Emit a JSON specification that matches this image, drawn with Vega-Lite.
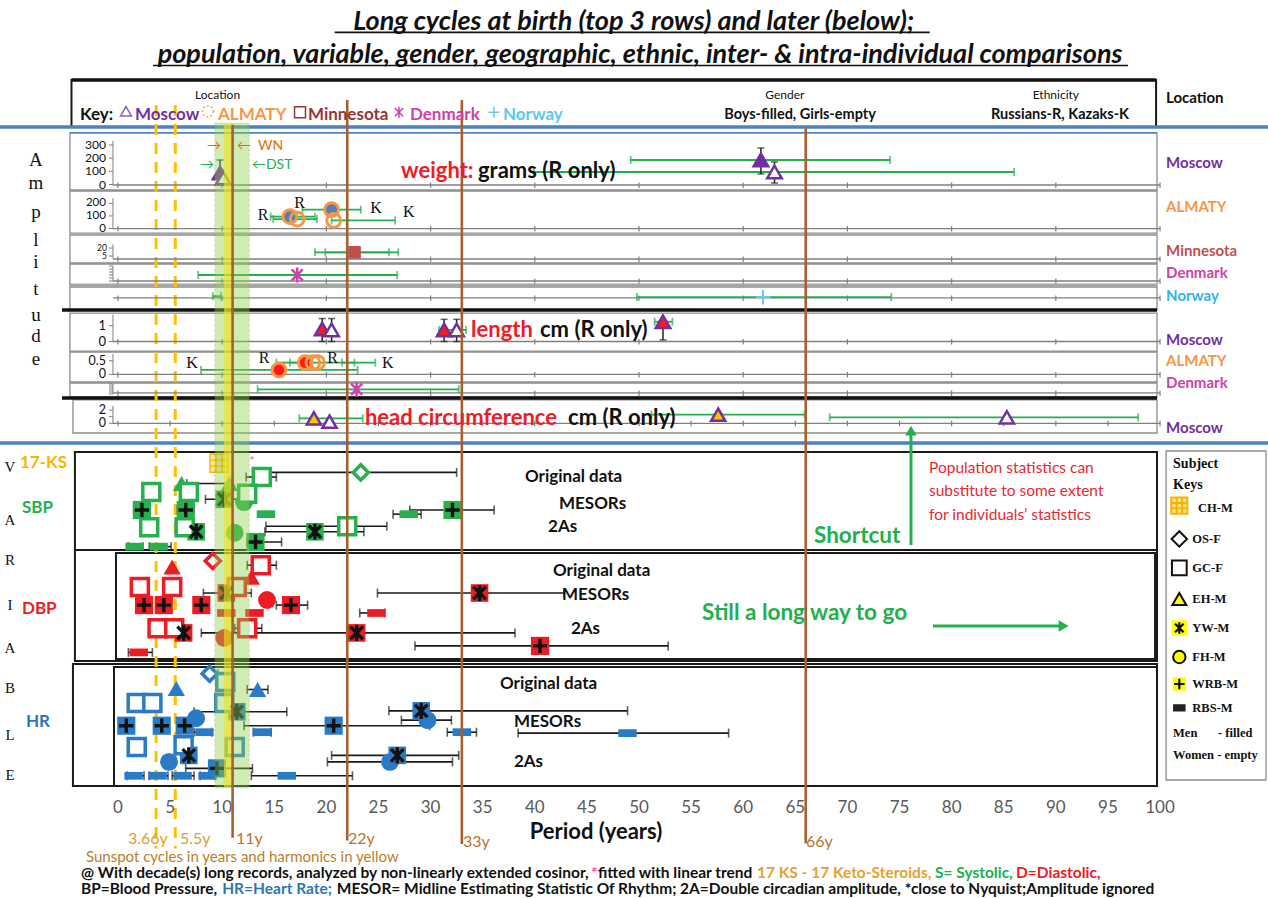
{
"$schema": "https://vega.github.io/schema/vega-lite/v6.json",
"width": 1268, "height": 898, "autosize": "none", "padding": 0, "background": "white",
"config": {"view": {"stroke": null}, "font": "Lato"},
"datasets": {
 "birth": [
  {"p":"WM","g":"boy","yr":61.7,"a":186,"lo":49.2,"hi":74.1,"alo":80,"ahi":277},
  {"p":"WM","g":"girl","yr":63.0,"a":95,"lo":39.9,"hi":86.0,"alo":11,"ahi":171},
  {"p":"WM","g":"boy","yr":9.8,"a":87,"alo":0,"ahi":186},
  {"p":"WM","g":"girl","yr":10.1,"a":49},
  {"p":"WA","g":"boy","yr":16.5,"a":94,"lo":14.65,"hi":18.9},
  {"p":"WA","g":"girl","yr":17.2,"a":75,"lo":14.9,"hi":19.1},
  {"p":"WA","g":"boy","yr":20.5,"a":150,"lo":17.7,"hi":23.3},
  {"p":"WA","g":"girl","yr":20.7,"a":64,"lo":20.5,"hi":26.6},
  {"p":"MN","g":"boy","yr":22.7,"a":12,"lo":18.9,"hi":26.9},
  {"p":"MN","a":12,"lo":19.9,"hi":26.0},
  {"p":"DW","g":"boy","yr":17.2,"a":4,"lo":7.7,"hi":26.8},
  {"p":"NO","g":"boy","yr":61.9,"a":1,"lo":49.8,"hi":74.2},
  {"p":"NO","a":2,"lo":9.1,"hi":9.9},
  {"p":"LM","g":"boy","yr":19.6,"a":0.79,"alo":0,"ahi":1.45},
  {"p":"LM","g":"girl","yr":20.5,"a":0.73,"alo":0,"ahi":1.45},
  {"p":"LM","g":"boy","yr":31.3,"a":0.73,"lo":30.8,"hi":33.4,"alo":0,"ahi":1.4},
  {"p":"LM","g":"girl","yr":32.5,"a":0.73,"alo":0,"ahi":1.4},
  {"p":"LM","g":"boy","yr":52.3,"a":1.25,"lo":51.5,"hi":53.2,"alo":0.1,"ahi":1.3},
  {"p":"LA","g":"boy","yr":15.45,"a":0.16,"lo":7.97,"hi":23.0},
  {"p":"LA","g":"boy","yr":17.97,"a":0.43,"lo":15.2,"hi":17.97},
  {"p":"LA","g":"girl","yr":18.7,"a":0.43,"lo":16.5,"hi":22.7},
  {"p":"LA","g":"girl","yr":19.15,"a":0.43,"lo":21.5,"hi":24.7},
  {"p":"LD","g":"boy","yr":22.9,"a":4.7,"lo":13.4,"hi":32.7},
  {"p":"HC","g":"boy","yr":18.8,"a":0.75,"lo":17.4,"hi":23.5},
  {"p":"HC","g":"girl","yr":20.3,"a":0.24},
  {"p":"HC","g":"boy","yr":57.6,"a":1.3,"lo":51.2,"hi":65.9},
  {"p":"HC","g":"girl","yr":85.3,"a":0.9,"lo":68.3,"hi":97.9}
 ],
 "lower": [
  {"v":"17-KS","s":"CH-M","yr":9.7,"lane":1.2},
  {"v":"SBP","s":"GC-F","yr":13.8,"lane":2.7,"lo":12.3,"hi":15.2},
  {"v":"SBP","s":"OS-F","yr":23.3,"lane":2.2,"lo":14.1,"hi":32.5},
  {"v":"SBP","s":"EH-M","yr":6.1,"lane":3.4},
  {"v":"SBP","s":"EH-M","yr":10.7,"lane":3.4,"lo":6.6,"hi":11.0},
  {"v":"SBP","s":"GC-F","yr":3.2,"lane":4.3},
  {"v":"SBP","s":"GC-F","yr":6.8,"lane":4.3},
  {"v":"SBP","s":"GC-F","yr":12.4,"lane":4.5},
  {"v":"SBP","s":"YW-M","yr":10.2,"lane":5.1,"lo":8.4,"hi":12.6},
  {"v":"SBP","s":"FH-M","yr":12.1,"lane":5.4},
  {"v":"SBP","s":"WRB-M","yr":2.3,"lane":6.25,"lo":1.5,"hi":3.1},
  {"v":"SBP","s":"WRB-M","yr":6.5,"lane":6.25,"lo":5.7,"hi":7.3},
  {"v":"SBP","s":"WRB-M","yr":32.1,"lane":6.25,"lo":28.0,"hi":36.1},
  {"v":"SBP","s":"RBS-M","yr":14.2,"lane":6.7},
  {"v":"SBP","s":"RBS-M","yr":27.9,"lane":6.7,"lo":26.4,"hi":29.1},
  {"v":"SBP","s":"GC-F","yr":3.0,"lane":8.1},
  {"v":"SBP","s":"GC-F","yr":6.4,"lane":8.1},
  {"v":"SBP","s":"GC-F","yr":22.0,"lane":8.0,"lo":14.2,"hi":25.8},
  {"v":"SBP","s":"YW-M","yr":7.5,"lane":8.6},
  {"v":"SBP","s":"YW-M","yr":18.9,"lane":8.6,"lo":14.1,"hi":23.6},
  {"v":"SBP","s":"FH-M","yr":11.2,"lane":8.7},
  {"v":"SBP","s":"WRB-M","yr":13.2,"lane":9.7,"lo":12.4,"hi":15.7},
  {"v":"SBP","s":"RBS-M","yr":1.6,"lane":10.2,"lo":1.0,"hi":2.4},
  {"v":"SBP","s":"RBS-M","yr":3.9,"lane":10.2,"lo":3.0,"hi":5.1},
  {"v":"DBP","s":"OS-F","yr":9.1,"lane":11.75},
  {"v":"DBP","s":"GC-F","yr":13.7,"lane":12.2,"lo":12.4,"hi":15.2},
  {"v":"DBP","s":"EH-M","yr":5.2,"lane":12.4},
  {"v":"DBP","s":"EH-M","yr":12.8,"lane":13.5},
  {"v":"DBP","s":"GC-F","yr":2.1,"lane":14.55},
  {"v":"DBP","s":"GC-F","yr":5.2,"lane":14.55},
  {"v":"DBP","s":"GC-F","yr":11.4,"lane":14.55},
  {"v":"DBP","s":"YW-M","yr":10.4,"lane":15.2,"lo":8.2,"hi":12.8},
  {"v":"DBP","s":"YW-M","yr":34.7,"lane":15.2,"lo":24.9,"hi":42.8},
  {"v":"DBP","s":"FH-M","yr":14.3,"lane":15.95},
  {"v":"DBP","s":"WRB-M","yr":16.6,"lane":16.5,"lo":15.2,"hi":18.2},
  {"v":"DBP","s":"WRB-M","yr":2.5,"lane":16.5},
  {"v":"DBP","s":"WRB-M","yr":4.4,"lane":16.5},
  {"v":"DBP","s":"WRB-M","yr":8.0,"lane":16.5},
  {"v":"DBP","s":"RBS-M","yr":10.4,"lane":17.35},
  {"v":"DBP","s":"RBS-M","yr":13.1,"lane":17.35},
  {"v":"DBP","s":"RBS-M","yr":24.8,"lane":17.35,"lo":23.2,"hi":25.6},
  {"v":"DBP","s":"GC-F","yr":3.8,"lane":19.0},
  {"v":"DBP","s":"GC-F","yr":5.4,"lane":19.0},
  {"v":"DBP","s":"GC-F","yr":12.4,"lane":19.0,"lo":11.2,"hi":13.8},
  {"v":"DBP","s":"YW-M","yr":6.3,"lane":19.5},
  {"v":"DBP","s":"YW-M","yr":22.9,"lane":19.5,"lo":8.0,"hi":38.1},
  {"v":"DBP","s":"FH-M","yr":10.2,"lane":20.05},
  {"v":"DBP","s":"WRB-M","yr":40.5,"lane":20.9,"lo":28.5,"hi":52.8},
  {"v":"DBP","s":"RBS-M","yr":2.0,"lane":21.6,"lo":1.0,"hi":3.3},
  {"v":"HR","s":"OS-F","yr":8.8,"lane":23.9,"lo":8.3,"hi":9.6},
  {"v":"HR","s":"GC-F","yr":10.3,"lane":24.8},
  {"v":"HR","s":"EH-M","yr":5.6,"lane":25.5},
  {"v":"HR","s":"EH-M","yr":13.4,"lane":25.6,"lo":12.4,"hi":14.4},
  {"v":"HR","s":"GC-F","yr":1.8,"lane":27.05},
  {"v":"HR","s":"GC-F","yr":3.3,"lane":27.05},
  {"v":"HR","s":"GC-F","yr":10.2,"lane":27.05},
  {"v":"HR","s":"YW-M","yr":11.4,"lane":28.0,"lo":7.3,"hi":16.2},
  {"v":"HR","s":"FH-M","yr":7.5,"lane":28.7},
  {"v":"HR","s":"YW-M","yr":29.1,"lane":27.9,"lo":26.0,"hi":48.9},
  {"v":"HR","s":"FH-M","yr":29.7,"lane":28.9,"lo":27.2,"hi":32.0},
  {"v":"HR","s":"WRB-M","yr":0.8,"lane":29.5},
  {"v":"HR","s":"WRB-M","yr":4.2,"lane":29.5},
  {"v":"HR","s":"WRB-M","yr":6.4,"lane":29.5},
  {"v":"HR","s":"WRB-M","yr":20.7,"lane":29.5,"lo":12.1,"hi":29.9},
  {"v":"HR","s":"RBS-M","yr":8.3,"lane":30.2,"lo":7.3,"hi":9.0},
  {"v":"HR","s":"RBS-M","yr":13.8,"lane":30.2,"lo":13.0,"hi":14.7},
  {"v":"HR","s":"RBS-M","yr":33.0,"lane":30.2,"lo":31.6,"hi":34.4},
  {"v":"HR","s":"RBS-M","yr":48.9,"lane":30.3,"lo":38.4,"hi":58.6},
  {"v":"HR","s":"GC-F","yr":1.8,"lane":31.8},
  {"v":"HR","s":"GC-F","yr":6.3,"lane":31.6},
  {"v":"HR","s":"GC-F","yr":11.2,"lane":31.8,"lo":10.4,"hi":12.0},
  {"v":"HR","s":"YW-M","yr":6.8,"lane":32.7},
  {"v":"HR","s":"FH-M","yr":4.9,"lane":33.4},
  {"v":"HR","s":"YW-M","yr":26.8,"lane":32.7,"lo":20.5,"hi":32.7},
  {"v":"HR","s":"FH-M","yr":26.1,"lane":33.4,"lo":20.1,"hi":32.1},
  {"v":"HR","s":"WRB-M","yr":9.5,"lane":34.1,"lo":6.5,"hi":12.9},
  {"v":"HR","s":"RBS-M","yr":1.5,"lane":34.9,"lo":0.9,"hi":2.5},
  {"v":"HR","s":"RBS-M","yr":3.8,"lane":34.9,"lo":3.0,"hi":4.8},
  {"v":"HR","s":"RBS-M","yr":6.2,"lane":34.9,"lo":5.2,"hi":7.3},
  {"v":"HR","s":"RBS-M","yr":8.6,"lane":34.9,"lo":7.9,"hi":9.3},
  {"v":"HR","s":"RBS-M","yr":16.2,"lane":34.9,"lo":12.8,"hi":22.5}
 ],
 "baselines": [
  {"y":20.60,"y1":20.32,"y2":20.93,"xs":[0,10,20,30,40,50,60,70,80,90,100]},
  {"y":25.45,"y1":25.17,"y2":25.78,"xs":[0,10,20,30,40,50,60,70,80,90,100]},
  {"y":28.84,"y1":28.56,"y2":29.17,"xs":[0,10,20,30,40,50,60,70,80,90,100]},
  {"y":31.29,"y1":31.01,"y2":31.62,"xs":[0,10,20,30,40,50,60,70,80,90,100]},
  {"y":33.18,"y1":32.90,"y2":33.51,"xs":[0,10,20,30,40,50,60,70,80,90,100]},
  {"y":38.03,"y1":37.75,"y2":38.36,"xs":[0,10,20,30,40,50,60,70,80,90,100]},
  {"y":41.70,"y1":41.42,"y2":42.03,"xs":[0,10,20,30,40,50,60,70,80,90,100]},
  {"y":43.76,"y1":43.48,"y2":44.09,"xs":[0,10,20,30,40,50,60,70,80,90,100]},
  {"y":47.14,"y1":46.86,"y2":47.47,"xs":[0,5,10,15,20,25,30,35,40,45,50,55,60,65,70,75,80,85,90,95,100]}
 ],
 "periodTicks": [{"v":0},{"v":5},{"v":10},{"v":15},{"v":20},{"v":25},{"v":30},{"v":35},{"v":40},{"v":45},{"v":50},{"v":55},{"v":60},{"v":65},{"v":70},{"v":75},{"v":80},{"v":85},{"v":90},{"v":95},{"v":100}]
},
"resolve": {"scale": {"y": "independent", "color": "independent", "fill": "independent", "stroke": "independent", "shape": "independent", "size": "independent", "strokeDash": "independent"}},
"layer": [
 {
  "encoding": {
   "x": {"field": "x", "type": "quantitative", "scale": {"domain": [-11.32, 110.36], "nice": false, "zero": false}, "axis": null},
   "y": {"field": "y", "type": "quantitative", "scale": {"domain": [0, 100], "range": [0, 898], "nice": false, "zero": false}, "axis": null}
  },
  "layer": [
   {"data": {"values": [
     {"x":-4.61,"x2":99.71,"y":14.81,"y2":21.16},
     {"x":-4.61,"x2":99.71,"y":21.27,"y2":25.95},
     {"x":-4.61,"x2":99.71,"y":26.17,"y2":29.29},
     {"x":-4.61,"x2":99.71,"y":29.40,"y2":31.74},
     {"x":-4.61,"x2":99.71,"y":31.96,"y2":34.52},
     {"x":-4.61,"x2":99.71,"y":34.86,"y2":39.09},
     {"x":-4.61,"x2":99.71,"y":39.20,"y2":42.54},
     {"x":-4.61,"x2":99.71,"y":42.65,"y2":44.21},
     {"x":-4.32,"x2":99.71,"y":44.54,"y2":48.22},
     {"x":100.58,"x2":110.17,"y":50.22,"y2":86.86}]},
    "mark": {"type": "rect", "fill": "transparent", "stroke": "#8c8c8c", "strokeWidth": 1.3},
    "encoding": {"x2": {"field": "x2"}, "y2": {"field": "y2"}}},
   {"data": {"values": [
     {"x":-4.46,"x2":99.62,"y":8.91,"y2":14.14},
     {"x":-4.13,"x2":99.71,"y":50.33,"y2":61.25},
     {"x":-4.13,"x2":99.71,"y":61.25,"y2":73.61},
     {"x":-0.19,"x2":99.52,"y":61.58,"y2":73.39},
     {"x":-4.32,"x2":99.71,"y":73.94,"y2":87.53},
     {"x":-0.38,"x2":99.71,"y":74.28,"y2":87.53}]},
    "mark": {"type": "rect", "fill": "transparent", "stroke": "#1a1a1a", "strokeWidth": 2},
    "encoding": {"x2": {"field": "x2"}, "y2": {"field": "y2"}}},
   {"data": {"name": "baselines"}, "transform": [{"flatten": ["xs"]}],
    "mark": {"type": "rule", "color": "#7f7f7f", "strokeWidth": 1.2},
    "encoding": {"x": {"field": "xs", "type": "quantitative", "scale": {"domain": [-11.32, 110.36], "nice": false, "zero": false}, "axis": null},
                 "y": {"field": "y1", "type": "quantitative", "scale": {"domain": [0, 100], "range": [0, 898], "nice": false, "zero": false}, "axis": null},
                 "y2": {"field": "y2"}}},
   {"data": {"values": [{"x":-5.37,"x2":99.71,"y":34.52},{"x":-5.37,"x2":99.71,"y":44.32},{"x":-4.46,"x2":99.62,"y":8.91}]},
    "mark": {"type": "rule", "color": "#111111", "strokeWidth": 3.5},
    "encoding": {"x2": {"field": "x2"}}},
   {"data": {"values": [{"x":-4.61,"x2":99.71,"y":31.74}]},
    "mark": {"type": "rule", "color": "#a6a6a6", "strokeWidth": 3},
    "encoding": {"x2": {"field": "x2"}}},
   {"data": {"values": [{"x":-11.32,"x2":110.36,"y":14.14},{"x":-11.32,"x2":110.36,"y":49.33}]},
    "mark": {"type": "rule", "color": "#4f81bd", "strokeWidth": 3.5},
    "encoding": {"x2": {"field": "x2"}}},
   {"data": {"values": [{"x":-4.61,"x2":99.71,"y":14.76}]},
    "mark": {"type": "rule", "color": "#4f81bd", "strokeWidth": 1.3},
    "encoding": {"x2": {"field": "x2"}}},
   {"data": {"values": [{"x":3.66,"y":11.7,"y2":94.5},{"x":5.5,"y":11.7,"y2":94.5}]},
    "mark": {"type": "rule", "color": "#ffc000", "strokeWidth": 3, "strokeDash": [11, 8]},
    "encoding": {"y2": {"field": "y2"}}}
  ]
 },
 {"data": {"name": "baselines"},
  "mark": {"type": "rule", "color": "#7f7f7f", "strokeWidth": 1.3},
  "encoding": {"x": {"datum": -0.48, "type": "quantitative", "scale": {"domain": [-11.32, 110.36], "nice": false, "zero": false}, "axis": null}, "x2": {"datum": 100},
               "y": {"field": "y", "type": "quantitative", "scale": {"domain": [0, 100], "range": [0, 898], "nice": false, "zero": false}, "axis": null}}},
 {"data": {"name": "periodTicks"},
  "mark": {"type": "text", "fontSize": 17, "align": "center", "baseline": "middle", "color": "#595959"},
  "encoding": {"x": {"field": "v", "type": "quantitative", "scale": {"domain": [-11.32, 110.36], "nice": false, "zero": false}, "axis": null},
               "y": {"datum": 90.0, "type": "quantitative", "scale": {"domain": [0, 100], "range": [0, 898], "nice": false, "zero": false}, "axis": null},
               "text": {"field": "v", "type": "nominal"}}},
 {
  "data": {"name": "birth"}, "transform": [{"filter": "datum.p === 'WM'"}],
  "encoding": {"y": {"field": "a", "type": "quantitative", "scale": {"domain": [0, 330], "range": [184.5, 141], "nice": false, "zero": false}, "axis": null}},
  "layer": [
   {"data": {"values": [{"a":0,"a2":330}]}, "mark": {"type": "rule", "color": "#808080"},
    "encoding": {"x": {"datum": -0.48, "type": "quantitative", "scale": {"domain": [-11.32, 110.36], "nice": false, "zero": false}, "axis": null}, "y2": {"field": "a2"}}},
   {"data": {"values": [{"a":0},{"a":100},{"a":200},{"a":300}]}, "mark": {"type": "rule", "color": "#808080"},
    "encoding": {"x": {"datum": -0.86, "type": "quantitative", "scale": {"domain": [-11.32, 110.36], "nice": false, "zero": false}, "axis": null}, "x2": {"datum": -0.48}}},
   {"data": {"values": [{"a":0},{"a":100},{"a":200},{"a":300}]}, "mark": {"type": "text", "align": "right", "baseline": "middle", "fontSize": 12, "dx": -7, "color": "#111111"},
    "encoding": {"x": {"datum": -0.48, "type": "quantitative", "scale": {"domain": [-11.32, 110.36], "nice": false, "zero": false}, "axis": null}, "text": {"field": "a", "type": "nominal"}}},
   {"transform": [{"filter": "isValid(datum.lo)"}], "mark": {"type": "errorbar", "ticks": {"size": 8}, "thickness": 1.8, "color": "#22b04b"},
    "encoding": {"x": {"field": "lo", "type": "quantitative", "scale": {"domain": [-11.32, 110.36], "nice": false, "zero": false}, "axis": null}, "x2": {"field": "hi"}}},
   {"transform": [{"filter": "isValid(datum.alo)"}], "mark": {"type": "errorbar", "ticks": {"size": 7}, "thickness": 1.5, "color": "#222222"},
    "encoding": {"x": {"field": "yr", "type": "quantitative", "scale": {"domain": [-11.32, 110.36], "nice": false, "zero": false}, "axis": null},
                 "y": {"field": "alo", "type": "quantitative", "scale": {"domain": [0, 330], "range": [184.5, 141], "nice": false, "zero": false}, "axis": null}, "y2": {"field": "ahi"}}},
   {"transform": [{"filter": "isValid(datum.yr)"}], "mark": {"type": "point", "shape": "triangle-up", "size": 210, "stroke": "#7030a0", "strokeWidth": 2.5, "filled": true, "opacity": 1},
    "encoding": {"x": {"field": "yr", "type": "quantitative", "scale": {"domain": [-11.32, 110.36], "nice": false, "zero": false}, "axis": null},
                 "fill": {"field": "g", "type": "nominal", "scale": {"domain": ["boy", "girl"], "range": ["#7030a0", "white"]}, "legend": null}}}
  ]
 },
 {
  "data": {"name": "birth"}, "transform": [{"filter": "datum.p === 'WA'"}],
  "encoding": {"y": {"field": "a", "type": "quantitative", "scale": {"domain": [0, 240], "range": [228.5, 198.3], "nice": false, "zero": false}, "axis": null}},
  "layer": [
   {"data": {"values": [{"a":0,"a2":240}]}, "mark": {"type": "rule", "color": "#808080"},
    "encoding": {"x": {"datum": -0.48, "type": "quantitative", "scale": {"domain": [-11.32, 110.36], "nice": false, "zero": false}, "axis": null}, "y2": {"field": "a2"}}},
   {"data": {"values": [{"a":0},{"a":100},{"a":200}]}, "mark": {"type": "rule", "color": "#808080"},
    "encoding": {"x": {"datum": -0.86, "type": "quantitative", "scale": {"domain": [-11.32, 110.36], "nice": false, "zero": false}, "axis": null}, "x2": {"datum": -0.48}}},
   {"data": {"values": [{"a":0},{"a":100},{"a":200}]}, "mark": {"type": "text", "align": "right", "baseline": "middle", "fontSize": 11.5, "dx": -7, "color": "#111111"},
    "encoding": {"x": {"datum": -0.48, "type": "quantitative", "scale": {"domain": [-11.32, 110.36], "nice": false, "zero": false}, "axis": null}, "text": {"field": "a", "type": "nominal"}}},
   {"transform": [{"filter": "isValid(datum.lo)"}], "mark": {"type": "errorbar", "ticks": {"size": 8}, "thickness": 1.8, "color": "#22b04b"},
    "encoding": {"x": {"field": "lo", "type": "quantitative", "scale": {"domain": [-11.32, 110.36], "nice": false, "zero": false}, "axis": null}, "x2": {"field": "hi"}}},
   {"transform": [{"filter": "isValid(datum.yr)"}], "mark": {"type": "point", "shape": "circle", "size": 190, "stroke": "#f79646", "strokeWidth": 3, "filled": true, "opacity": 1},
    "encoding": {"x": {"field": "yr", "type": "quantitative", "scale": {"domain": [-11.32, 110.36], "nice": false, "zero": false}, "axis": null},
                 "fill": {"field": "g", "type": "nominal", "scale": {"domain": ["boy", "girl"], "range": ["#4f81bd", "transparent"]}, "legend": null}}}
  ]
 },
 {
  "data": {"name": "birth"}, "transform": [{"filter": "datum.p === 'MN'"}],
  "encoding": {"y": {"field": "a", "type": "quantitative", "scale": {"domain": [0, 27], "range": [258.7, 244.3], "nice": false, "zero": false}, "axis": null}},
  "layer": [
   {"data": {"values": [{"a":0,"a2":27}]}, "mark": {"type": "rule", "color": "#808080"},
    "encoding": {"x": {"datum": -0.48, "type": "quantitative", "scale": {"domain": [-11.32, 110.36], "nice": false, "zero": false}, "axis": null}, "y2": {"field": "a2"}}},
   {"data": {"values": [{"a":5},{"a":20}]}, "mark": {"type": "rule", "color": "#808080"},
    "encoding": {"x": {"datum": -0.86, "type": "quantitative", "scale": {"domain": [-11.32, 110.36], "nice": false, "zero": false}, "axis": null}, "x2": {"datum": -0.48}}},
   {"data": {"values": [{"a":5},{"a":20}]}, "mark": {"type": "text", "align": "right", "baseline": "middle", "fontSize": 8.5, "dx": -6, "color": "#111111"},
    "encoding": {"x": {"datum": -0.48, "type": "quantitative", "scale": {"domain": [-11.32, 110.36], "nice": false, "zero": false}, "axis": null}, "text": {"field": "a", "type": "nominal"}}},
   {"transform": [{"filter": "isValid(datum.lo)"}], "mark": {"type": "errorbar", "ticks": {"size": 8}, "thickness": 1.8, "color": "#22b04b"},
    "encoding": {"x": {"field": "lo", "type": "quantitative", "scale": {"domain": [-11.32, 110.36], "nice": false, "zero": false}, "axis": null}, "x2": {"field": "hi"}}},
   {"transform": [{"filter": "isValid(datum.yr)"}], "mark": {"type": "point", "shape": "square", "size": 160, "color": "#c0504d", "filled": true, "opacity": 1},
    "encoding": {"x": {"field": "yr", "type": "quantitative", "scale": {"domain": [-11.32, 110.36], "nice": false, "zero": false}, "axis": null}}}
  ]
 },
 {
  "data": {"name": "birth"}, "transform": [{"filter": "datum.p === 'DW'"}],
  "encoding": {"y": {"field": "a", "type": "quantitative", "scale": {"domain": [0, 10], "range": [281, 266], "nice": false, "zero": false}, "axis": null}},
  "layer": [
   {"data": {"values": [{"a":0,"a2":10}]}, "mark": {"type": "rule", "color": "#808080"},
    "encoding": {"x": {"datum": -0.48, "type": "quantitative", "scale": {"domain": [-11.32, 110.36], "nice": false, "zero": false}, "axis": null}, "y2": {"field": "a2"}}},
   {"data": {"values": [{"a":0},{"a":2},{"a":4},{"a":6},{"a":8},{"a":10}]}, "mark": {"type": "rule", "color": "#808080"},
    "encoding": {"x": {"datum": -0.86, "type": "quantitative", "scale": {"domain": [-11.32, 110.36], "nice": false, "zero": false}, "axis": null}, "x2": {"datum": -0.48}}},
   {"transform": [{"filter": "isValid(datum.lo)"}], "mark": {"type": "errorbar", "ticks": {"size": 8}, "thickness": 1.8, "color": "#22b04b"},
    "encoding": {"x": {"field": "lo", "type": "quantitative", "scale": {"domain": [-11.32, 110.36], "nice": false, "zero": false}, "axis": null}, "x2": {"field": "hi"}}},
   {"transform": [{"filter": "isValid(datum.yr)"}], "mark": {"type": "point", "shape": "M-0.75,-0.75L0.75,0.75M0.75,-0.75L-0.75,0.75M0,-1L0,1", "size": 220, "stroke": "#d23fb0", "strokeWidth": 2.5, "filled": false, "opacity": 1},
    "encoding": {"x": {"field": "yr", "type": "quantitative", "scale": {"domain": [-11.32, 110.36], "nice": false, "zero": false}, "axis": null}}}
  ]
 },
 {
  "data": {"name": "birth"}, "transform": [{"filter": "datum.p === 'NO'"}],
  "encoding": {"y": {"field": "a", "type": "quantitative", "scale": {"domain": [0, 10], "range": [298, 289], "nice": false, "zero": false}, "axis": null}},
  "layer": [
   {"transform": [{"filter": "isValid(datum.lo)"}], "mark": {"type": "errorbar", "ticks": {"size": 8}, "thickness": 1.8, "color": "#22b04b"},
    "encoding": {"x": {"field": "lo", "type": "quantitative", "scale": {"domain": [-11.32, 110.36], "nice": false, "zero": false}, "axis": null}, "x2": {"field": "hi"}}},
   {"transform": [{"filter": "isValid(datum.yr)"}], "mark": {"type": "point", "shape": "M-1,0L1,0M0,-1L0,1", "size": 220, "stroke": "#6cc7ea", "strokeWidth": 2, "filled": false, "opacity": 1},
    "encoding": {"x": {"field": "yr", "type": "quantitative", "scale": {"domain": [-11.32, 110.36], "nice": false, "zero": false}, "axis": null}}}
  ]
 },
 {
  "data": {"name": "birth"}, "transform": [{"filter": "datum.p === 'LM'"}],
  "encoding": {"y": {"field": "a", "type": "quantitative", "scale": {"domain": [0, 1.7], "range": [341.5, 314.6], "nice": false, "zero": false}, "axis": null}},
  "layer": [
   {"data": {"values": [{"a":0,"a2":1.7}]}, "mark": {"type": "rule", "color": "#808080"},
    "encoding": {"x": {"datum": -0.48, "type": "quantitative", "scale": {"domain": [-11.32, 110.36], "nice": false, "zero": false}, "axis": null}, "y2": {"field": "a2"}}},
   {"data": {"values": [{"a":0},{"a":1}]}, "mark": {"type": "rule", "color": "#808080"},
    "encoding": {"x": {"datum": -0.86, "type": "quantitative", "scale": {"domain": [-11.32, 110.36], "nice": false, "zero": false}, "axis": null}, "x2": {"datum": -0.48}}},
   {"data": {"values": [{"a":0},{"a":1}]}, "mark": {"type": "text", "align": "right", "baseline": "middle", "fontSize": 13, "dx": -7, "color": "#111111"},
    "encoding": {"x": {"datum": -0.48, "type": "quantitative", "scale": {"domain": [-11.32, 110.36], "nice": false, "zero": false}, "axis": null}, "text": {"field": "a", "type": "nominal"}}},
   {"transform": [{"filter": "isValid(datum.alo)"}], "mark": {"type": "errorbar", "ticks": {"size": 7}, "thickness": 1.5, "color": "#222222"},
    "encoding": {"x": {"field": "yr", "type": "quantitative", "scale": {"domain": [-11.32, 110.36], "nice": false, "zero": false}, "axis": null},
                 "y": {"field": "alo", "type": "quantitative", "scale": {"domain": [0, 1.7], "range": [341.5, 314.6], "nice": false, "zero": false}, "axis": null}, "y2": {"field": "ahi"}}},
   {"transform": [{"filter": "isValid(datum.lo)"}], "mark": {"type": "errorbar", "ticks": {"size": 8}, "thickness": 1.8, "color": "#22b04b"},
    "encoding": {"x": {"field": "lo", "type": "quantitative", "scale": {"domain": [-11.32, 110.36], "nice": false, "zero": false}, "axis": null}, "x2": {"field": "hi"}}},
   {"transform": [{"filter": "isValid(datum.yr)"}], "mark": {"type": "point", "shape": "triangle-up", "size": 210, "stroke": "#7030a0", "strokeWidth": 2.5, "filled": true, "opacity": 1},
    "encoding": {"x": {"field": "yr", "type": "quantitative", "scale": {"domain": [-11.32, 110.36], "nice": false, "zero": false}, "axis": null},
                 "fill": {"field": "g", "type": "nominal", "scale": {"domain": ["boy", "girl"], "range": ["#ff1a1a", "white"]}, "legend": null}}}
  ]
 },
 {
  "data": {"name": "birth"}, "transform": [{"filter": "datum.p === 'LA'"}],
  "encoding": {"y": {"field": "a", "type": "quantitative", "scale": {"domain": [0, 0.75], "range": [374.3, 353.9], "nice": false, "zero": false}, "axis": null}},
  "layer": [
   {"data": {"values": [{"a":0,"a2":0.75}]}, "mark": {"type": "rule", "color": "#808080"},
    "encoding": {"x": {"datum": -0.48, "type": "quantitative", "scale": {"domain": [-11.32, 110.36], "nice": false, "zero": false}, "axis": null}, "y2": {"field": "a2"}}},
   {"data": {"values": [{"a":0},{"a":0.5}]}, "mark": {"type": "rule", "color": "#808080"},
    "encoding": {"x": {"datum": -0.86, "type": "quantitative", "scale": {"domain": [-11.32, 110.36], "nice": false, "zero": false}, "axis": null}, "x2": {"datum": -0.48}}},
   {"data": {"values": [{"a":0},{"a":0.5}]}, "mark": {"type": "text", "align": "right", "baseline": "middle", "fontSize": 12.5, "dx": -7, "color": "#111111"},
    "encoding": {"x": {"datum": -0.48, "type": "quantitative", "scale": {"domain": [-11.32, 110.36], "nice": false, "zero": false}, "axis": null}, "text": {"field": "a", "type": "nominal"}}},
   {"transform": [{"filter": "isValid(datum.lo)"}], "mark": {"type": "errorbar", "ticks": {"size": 8}, "thickness": 1.8, "color": "#22b04b"},
    "encoding": {"x": {"field": "lo", "type": "quantitative", "scale": {"domain": [-11.32, 110.36], "nice": false, "zero": false}, "axis": null}, "x2": {"field": "hi"}}},
   {"transform": [{"filter": "isValid(datum.yr)"}], "mark": {"type": "point", "shape": "circle", "size": 190, "stroke": "#f79646", "strokeWidth": 3, "filled": true, "opacity": 1},
    "encoding": {"x": {"field": "yr", "type": "quantitative", "scale": {"domain": [-11.32, 110.36], "nice": false, "zero": false}, "axis": null},
                 "fill": {"field": "g", "type": "nominal", "scale": {"domain": ["boy", "girl"], "range": ["#ff1a1a", "transparent"]}, "legend": null}}}
  ]
 },
 {
  "data": {"name": "birth"}, "transform": [{"filter": "datum.p === 'LD'"}],
  "encoding": {"y": {"field": "a", "type": "quantitative", "scale": {"domain": [0, 10], "range": [394, 384], "nice": false, "zero": false}, "axis": null}},
  "layer": [
   {"data": {"values": [{"a":0,"a2":10}]}, "mark": {"type": "rule", "color": "#808080"},
    "encoding": {"x": {"datum": -0.48, "type": "quantitative", "scale": {"domain": [-11.32, 110.36], "nice": false, "zero": false}, "axis": null}, "y2": {"field": "a2"}}},
   {"data": {"values": [{"a":0},{"a":2},{"a":4},{"a":6},{"a":8},{"a":10}]}, "mark": {"type": "rule", "color": "#808080"},
    "encoding": {"x": {"datum": -0.86, "type": "quantitative", "scale": {"domain": [-11.32, 110.36], "nice": false, "zero": false}, "axis": null}, "x2": {"datum": -0.48}}},
   {"transform": [{"filter": "isValid(datum.lo)"}], "mark": {"type": "errorbar", "ticks": {"size": 8}, "thickness": 1.8, "color": "#22b04b"},
    "encoding": {"x": {"field": "lo", "type": "quantitative", "scale": {"domain": [-11.32, 110.36], "nice": false, "zero": false}, "axis": null}, "x2": {"field": "hi"}}},
   {"transform": [{"filter": "isValid(datum.yr)"}], "mark": {"type": "point", "shape": "M-0.75,-0.75L0.75,0.75M0.75,-0.75L-0.75,0.75M0,-1L0,1", "size": 220, "stroke": "#d23fb0", "strokeWidth": 2.5, "filled": false, "opacity": 1},
    "encoding": {"x": {"field": "yr", "type": "quantitative", "scale": {"domain": [-11.32, 110.36], "nice": false, "zero": false}, "axis": null}}}
  ]
 },
 {
  "data": {"name": "birth"}, "transform": [{"filter": "datum.p === 'HC'"}],
  "encoding": {"y": {"field": "a", "type": "quantitative", "scale": {"domain": [0, 2.6], "range": [423.3, 406], "nice": false, "zero": false}, "axis": null}},
  "layer": [
   {"data": {"values": [{"a":0,"a2":2.6}]}, "mark": {"type": "rule", "color": "#808080"},
    "encoding": {"x": {"datum": -0.48, "type": "quantitative", "scale": {"domain": [-11.32, 110.36], "nice": false, "zero": false}, "axis": null}, "y2": {"field": "a2"}}},
   {"data": {"values": [{"a":0},{"a":1},{"a":2}]}, "mark": {"type": "rule", "color": "#808080"},
    "encoding": {"x": {"datum": -0.86, "type": "quantitative", "scale": {"domain": [-11.32, 110.36], "nice": false, "zero": false}, "axis": null}, "x2": {"datum": -0.48}}},
   {"data": {"values": [{"a":0},{"a":2}]}, "mark": {"type": "text", "align": "right", "baseline": "middle", "fontSize": 12.5, "dx": -7, "color": "#111111"},
    "encoding": {"x": {"datum": -0.48, "type": "quantitative", "scale": {"domain": [-11.32, 110.36], "nice": false, "zero": false}, "axis": null}, "text": {"field": "a", "type": "nominal"}}},
   {"transform": [{"filter": "isValid(datum.lo)"}], "mark": {"type": "errorbar", "ticks": {"size": 8}, "thickness": 1.8, "color": "#22b04b"},
    "encoding": {"x": {"field": "lo", "type": "quantitative", "scale": {"domain": [-11.32, 110.36], "nice": false, "zero": false}, "axis": null}, "x2": {"field": "hi"}}},
   {"transform": [{"filter": "isValid(datum.yr)"}], "mark": {"type": "point", "shape": "triangle-up", "size": 200, "stroke": "#7030a0", "strokeWidth": 2.5, "filled": true, "opacity": 1},
    "encoding": {"x": {"field": "yr", "type": "quantitative", "scale": {"domain": [-11.32, 110.36], "nice": false, "zero": false}, "axis": null},
                 "fill": {"field": "g", "type": "nominal", "scale": {"domain": ["boy", "girl"], "range": ["#ffc000", "white"]}, "legend": null}}}
  ]
 },
 {
  "data": {"name": "lower"},
  "encoding": {
   "x": {"field": "yr", "type": "quantitative", "scale": {"domain": [-11.32, 110.36], "nice": false, "zero": false}, "axis": null},
   "y": {"field": "lane", "type": "quantitative", "scale": {"domain": [0, 36], "range": [452, 786], "nice": false, "zero": false}, "axis": null}
  },
  "resolve": {"scale": {"shape": "independent", "size": "independent", "color": "independent", "stroke": "independent"}},
  "layer": [
   {"transform": [{"filter": "isValid(datum.lo)"}], "mark": {"type": "errorbar", "ticks": {"size": 9}, "thickness": 1.6, "color": "#1a1a1a"},
    "encoding": {"x": {"field": "lo", "type": "quantitative", "scale": {"domain": [-11.32, 110.36], "nice": false, "zero": false}, "axis": null}, "x2": {"field": "hi"}}},
   {"transform": [{"filter": "indexof(['EH-M','YW-M','FH-M','WRB-M','RBS-M'], datum.s) >= 0"}],
    "mark": {"type": "point", "filled": true, "opacity": 1},
    "encoding": {
     "shape": {"field": "s", "type": "nominal", "scale": {"domain": ["EH-M","YW-M","FH-M","WRB-M","RBS-M"], "range": ["triangle-up","square","circle","square","M-1,-0.42H1V0.42H-1Z"]}, "legend": null},
     "size": {"field": "s", "type": "nominal", "scale": {"domain": ["EH-M","YW-M","FH-M","WRB-M","RBS-M"], "range": [300, 340, 340, 340, 110]}, "legend": null},
     "color": {"field": "v", "type": "nominal", "scale": {"domain": ["SBP","DBP","HR","17-KS"], "range": ["#27b04e","#ed1c24","#2a7bc6","#f5b400"]}, "legend": null}}},
   {"transform": [{"filter": "indexof(['OS-F','GC-F'], datum.s) >= 0"}],
    "mark": {"type": "point", "filled": true, "fill": "white", "strokeWidth": 3.5, "opacity": 1},
    "encoding": {
     "shape": {"field": "s", "type": "nominal", "scale": {"domain": ["OS-F","GC-F"], "range": ["diamond","square"]}, "legend": null},
     "size": {"field": "s", "type": "nominal", "scale": {"domain": ["OS-F","GC-F"], "range": [230, 290]}, "legend": null},
     "stroke": {"field": "v", "type": "nominal", "scale": {"domain": ["SBP","DBP","HR","17-KS"], "range": ["#27b04e","#ed1c24","#2a7bc6","#f5b400"]}, "legend": null}}},
   {"transform": [{"filter": "indexof(['YW-M','WRB-M'], datum.s) >= 0"}],
    "mark": {"type": "point", "filled": false, "stroke": "#111111", "strokeWidth": 3.4, "size": 320, "opacity": 1},
    "encoding": {
     "shape": {"field": "s", "type": "nominal", "scale": {"domain": ["YW-M","WRB-M"], "range": ["M-0.7,-0.7L0.7,0.7M0.7,-0.7L-0.7,0.7M0,-0.9L0,0.9","M-0.8,0L0.8,0M0,-0.8L0,0.8"]}, "legend": null}}},
   {"transform": [{"filter": "datum.s === 'CH-M'"}],
    "mark": {"type": "point", "shape": "M-1,-1H1V1H-1ZM-0.33,-1V1M0.33,-1V1M-1,-0.33H1M-1,0.33H1", "size": 330, "filled": true, "fill": "#ffe699", "stroke": "#f2b705", "strokeWidth": 1.4, "opacity": 1}}
  ]
 },
 {
  "encoding": {
   "x": {"field": "x", "type": "quantitative", "scale": {"domain": [-11.32, 110.36], "nice": false, "zero": false}, "axis": null},
   "y": {"field": "y", "type": "quantitative", "scale": {"domain": [0, 100], "range": [0, 898], "nice": false, "zero": false}, "axis": null}
  },
  "resolve": {"scale": {"color": "independent", "shape": "independent", "stroke": "independent", "fill": "independent", "strokeDash": "independent", "size": "independent"}},
  "layer": [
   {"data": {"values": [{"x":9.3,"x2":12.6,"y":13.7,"y2":87.75}]},
    "mark": {"type": "rect", "fill": "#92d050", "opacity": 0.42, "stroke": "#6f9a3c", "strokeWidth": 0.8, "strokeDash": [3, 2]},
    "encoding": {"x2": {"field": "x2"}, "y2": {"field": "y2"}}},
   {"data": {"values": [{"x":10.17,"x2":10.89,"y":13.7,"y2":87.75}]},
    "mark": {"type": "rect", "fill": "#efe21a", "opacity": 0.6},
    "encoding": {"x2": {"field": "x2"}, "y2": {"field": "y2"}}},
   {"data": {"values": [{"x":11,"y":13.9,"y2":93.3},{"x":22,"y":11.14,"y2":93.6},{"x":33,"y":11.14,"y2":94.0},{"x":66,"y":14.3,"y2":93.9}]},
    "mark": {"type": "rule", "color": "#a5602e", "strokeWidth": 2.6},
    "encoding": {"y2": {"field": "y2"}}},
   {"data": {"values": [{"t":"Period (years)","x":45.87,"y":92.65}]},
    "mark": {"type": "text", "fontSize": 22, "fontWeight": "bold", "align": "center", "baseline": "middle", "color": "#111111"},
    "encoding": {"text": {"field": "t"}}},
   {"data": {"values": [{"t":"Long cycles at birth (top 3 rows) and later (below);","x":49.5,"y":2.42},{"t":"population, variable, gender, geographic, ethnic, inter- & intra-individual comparisons","x":50.1,"y":6.12}]},
    "mark": {"type": "text", "fontSize": 27, "fontWeight": "bold", "fontStyle": "italic", "align": "center", "baseline": "middle", "color": "#111111"},
    "encoding": {"text": {"field": "t"}}},
   {"data": {"values": [{"x":20.8,"x2":77.9,"y":3.6},{"x":3.36,"x2":96.93,"y":7.3}]},
    "mark": {"type": "rule", "color": "#111111", "strokeWidth": 1.6},
    "encoding": {"x2": {"field": "x2"}}},
   {"data": {"values": [{"t":"Location","x":9.56,"y":10.58},{"t":"Gender","x":64.0,"y":10.58},{"t":"Ethnicity","x":90.0,"y":10.58}]},
    "mark": {"type": "text", "fontSize": 12, "align": "center", "baseline": "middle", "color": "#111111"},
    "encoding": {"text": {"field": "t"}}},
   {"data": {"values": [{"t":"Boys-filled, Girls-empty","x":65.45,"y":12.81},{"t":"Russians-R, Kazaks-K","x":90.4,"y":12.81}]},
    "mark": {"type": "text", "fontSize": 14.5, "fontWeight": "bold", "align": "center", "baseline": "middle", "color": "#111111"},
    "encoding": {"text": {"field": "t"}}},
   {"data": {"values": [{"t":"Key:","x":-3.65,"y":12.81}]},
    "mark": {"type": "text", "fontSize": 17, "fontWeight": "bold", "align": "left", "baseline": "middle", "color": "#111111"},
    "encoding": {"text": {"field": "t"}}},
   {"data": {"values": [{"t":"Moscow","c":"Moscow","x":1.63,"y":12.81},{"t":"ALMATY","c":"ALMATY","x":9.6,"y":12.81},{"t":"Minnesota","c":"Minnesota","x":18.23,"y":12.81},{"t":"Denmark","c":"Denmark","x":28.02,"y":12.81},{"t":"Norway","c":"Norway","x":36.95,"y":12.81}]},
    "mark": {"type": "text", "fontSize": 17, "fontWeight": "bold", "align": "left", "baseline": "middle"},
    "encoding": {"text": {"field": "t"}, "color": {"field": "c", "type": "nominal", "scale": {"domain": ["Moscow","ALMATY","Minnesota","Denmark","Norway"], "range": ["#7030a0","#f79646","#953735","#d040a8","#5bc8ec"]}, "legend": null}}},
   {"data": {"values": [{"c":"Moscow","x":0.77,"y":12.4},{"c":"ALMATY","x":8.64,"y":12.4},{"c":"Minnesota","x":17.47,"y":12.5},{"c":"Denmark","x":26.97,"y":12.5},{"c":"Norway","x":36.08,"y":12.5}]},
    "mark": {"type": "point", "filled": false, "size": 120, "strokeWidth": 1.5, "opacity": 1},
    "encoding": {
     "shape": {"field": "c", "type": "nominal", "scale": {"domain": ["Moscow","ALMATY","Minnesota","Denmark","Norway"], "range": ["triangle-up","circle","square","M-0.75,-0.75L0.75,0.75M0.75,-0.75L-0.75,0.75M0,-1L0,1","M-1,0L1,0M0,-1L0,1"]}, "legend": null},
     "stroke": {"field": "c", "type": "nominal", "scale": {"domain": ["Moscow","ALMATY","Minnesota","Denmark","Norway"], "range": ["#8e5cc4","#f5a25a","#953735","#d23fb0","#6cc7ea"]}, "legend": null},
     "strokeDash": {"field": "c", "type": "nominal", "scale": {"domain": ["Moscow","ALMATY","Minnesota","Denmark","Norway"], "range": [[1,0],[2,2],[1,0],[1,0],[1,0]]}, "legend": null}}},
   {"data": {"values": [{"t":"Location","c":"Location","x":100.58,"y":10.88},{"t":"Moscow","c":"Moscow","x":100.58,"y":18.15},{"t":"ALMATY","c":"ALMATY","x":100.58,"y":23.02},{"t":"Minnesota","c":"Minnesota","x":100.58,"y":27.95},{"t":"Denmark","c":"Denmark","x":100.58,"y":30.40},{"t":"Norway","c":"Norway","x":100.58,"y":32.96},{"t":"Moscow","c":"Moscow","x":100.58,"y":37.86},{"t":"ALMATY","c":"ALMATY","x":100.58,"y":40.20},{"t":"Denmark","c":"Denmark","x":100.58,"y":42.65},{"t":"Moscow","c":"Moscow","x":100.58,"y":47.66}]},
    "mark": {"type": "text", "fontSize": 15, "fontWeight": "bold", "align": "left", "baseline": "middle"},
    "encoding": {"text": {"field": "t"}, "color": {"field": "c", "type": "nominal", "scale": {"domain": ["Location","Moscow","ALMATY","Minnesota","Denmark","Norway"], "range": ["#111111","#7030a0","#f79646","#c0504d","#d040a8","#31b4e6"]}, "legend": null}}},
   {"data": {"values": [{"t":"A","x":-7.87,"y":17.82},{"t":"m","x":-7.87,"y":20.38},{"t":"p","x":-7.87,"y":23.61},{"t":"l","x":-7.87,"y":26.73},{"t":"i","x":-7.87,"y":29.18},{"t":"t","x":-7.87,"y":32.18},{"t":"u","x":-7.87,"y":35.08},{"t":"d","x":-7.87,"y":37.4},{"t":"e","x":-7.87,"y":39.95}]},
    "mark": {"type": "text", "font": "Liberation Serif", "fontSize": 19, "align": "center", "baseline": "middle", "color": "#111111"},
    "encoding": {"text": {"field": "t"}}},
   {"data": {"values": [{"t":"V","x":-10.36,"y":52.0},{"t":"A","x":-10.36,"y":57.91},{"t":"R","x":-10.36,"y":62.36},{"t":"I","x":-10.36,"y":67.37},{"t":"A","x":-10.36,"y":72.16},{"t":"B","x":-10.36,"y":76.61},{"t":"L","x":-10.36,"y":81.85},{"t":"E","x":-10.36,"y":86.3}]},
    "mark": {"type": "text", "font": "Liberation Serif", "fontSize": 15, "align": "center", "baseline": "middle", "color": "#111111"},
    "encoding": {"text": {"field": "t"}}},
   {"data": {"values": [{"t":"17-KS","x":-9.4,"y":51.56},{"t":"SBP","x":-9.21,"y":56.57},{"t":"DBP","x":-9.21,"y":67.82},{"t":"HR","x":-8.83,"y":80.4}]},
    "mark": {"type": "text", "fontSize": 17, "fontWeight": "bold", "align": "left", "baseline": "middle"},
    "encoding": {"text": {"field": "t"}, "color": {"field": "t", "type": "nominal", "scale": {"domain": ["17-KS","SBP","DBP","HR"], "range": ["#f5b400","#22b04b","#ed1c24","#2e75b6"]}, "legend": null}}},
   {"data": {"values": [{"t":"weight:","x":27.16,"y":19.04},{"t":"length","x":33.88,"y":36.75},{"t":"head circumference","x":23.7,"y":46.55}]},
    "mark": {"type": "text", "fontSize": 22, "fontWeight": "bold", "align": "left", "baseline": "middle", "color": "#ee1c25"},
    "encoding": {"text": {"field": "t"}}},
   {"data": {"values": [{"t":"grams (R only)","x":34.55,"y":19.04},{"t":"cm (R only)","x":40.5,"y":36.75},{"t":"cm (R only)","x":43.19,"y":46.55}]},
    "mark": {"type": "text", "fontSize": 22, "fontWeight": "bold", "align": "left", "baseline": "middle", "color": "#111111"},
    "encoding": {"text": {"field": "t"}}},
   {"data": {"values": [{"t":"R","x":13.92,"y":23.94},{"t":"R","x":17.42,"y":22.64},{"t":"K","x":24.76,"y":23.2},{"t":"K","x":27.9,"y":23.57},{"t":"K","x":7.1,"y":40.46},{"t":"R","x":14.03,"y":39.9},{"t":"R","x":20.6,"y":39.9},{"t":"K","x":25.9,"y":40.46}]},
    "mark": {"type": "text", "font": "Liberation Serif", "fontSize": 16, "align": "center", "baseline": "middle", "color": "#111111"},
    "encoding": {"text": {"field": "t"}}},
   {"data": {"values": [{"t":"→","x":8.54,"y":16.26},{"t":"←","x":11.42,"y":16.26},{"t":"WN","x":13.44,"y":16.26}]},
    "mark": {"type": "text", "fontSize": 14, "align": "left", "baseline": "middle", "color": "#e46c0a"},
    "encoding": {"text": {"field": "t"}}},
   {"data": {"values": [{"t":"→","x":7.87,"y":18.37},{"t":"←DST","x":12.86,"y":18.37}]},
    "mark": {"type": "text", "fontSize": 14, "align": "left", "baseline": "middle", "color": "#22b04b"},
    "encoding": {"text": {"field": "t"}}},
   {"data": {"values": [{"t":"*","x":12.86,"y":51.3}]},
    "mark": {"type": "text", "fontSize": 12, "align": "center", "baseline": "middle", "color": "#ff4f9f"},
    "encoding": {"text": {"field": "t"}}},
   {"data": {"values": [{"t":"Original data","x":39.06,"y":53.12},{"t":"MESORs","x":42.32,"y":56.12},{"t":"2As","x":41.27,"y":58.69},{"t":"Original data","x":41.75,"y":63.59},{"t":"MESORs","x":42.61,"y":66.26},{"t":"2As","x":43.47,"y":70.04},{"t":"Original data","x":36.66,"y":76.17},{"t":"MESORs","x":38.0,"y":80.4},{"t":"2As","x":38.0,"y":84.86}]},
    "mark": {"type": "text", "fontSize": 17, "fontWeight": "bold", "align": "left", "baseline": "middle", "color": "#111111"},
    "encoding": {"text": {"field": "t"}}},
   {"data": {"values": [{"t":"Still a long way to go","x":56.05,"y":68.26},{"t":"Shortcut","x":66.79,"y":59.69}]},
    "mark": {"type": "text", "fontSize": 22.5, "fontWeight": "bold", "align": "left", "baseline": "middle", "color": "#22b04b"},
    "encoding": {"text": {"field": "t"}}},
   {"data": {"values": [{"x":78.21,"x2":90.3,"y":69.71}]},
    "mark": {"type": "rule", "color": "#22b04b", "strokeWidth": 3},
    "encoding": {"x2": {"field": "x2"}}},
   {"data": {"values": [{"x":76.1,"y":48.3,"y2":60.69}]},
    "mark": {"type": "rule", "color": "#22b04b", "strokeWidth": 3},
    "encoding": {"y2": {"field": "y2"}}},
   {"data": {"values": [{"x":90.75,"y":69.71,"d":"right"},{"x":76.1,"y":47.95,"d":"up"}]},
    "mark": {"type": "point", "filled": true, "color": "#22b04b", "size": 130, "opacity": 1},
    "encoding": {"shape": {"field": "d", "type": "nominal", "scale": {"domain": ["right","up"], "range": ["triangle-right","triangle-up"]}, "legend": null}}},
   {"data": {"values": [{"t":"Population statistics can","x":77.83,"y":52.12},{"t":"substitute to some extent","x":77.83,"y":54.68},{"t":"for individuals’ statistics","x":77.83,"y":57.35}]},
    "mark": {"type": "text", "fontSize": 15.5, "align": "left", "baseline": "middle", "color": "#e8282e"},
    "encoding": {"text": {"field": "t"}}},
   {"data": {"values": [{"t":"Subject","x":101.25,"y":51.67},{"t":"Keys","x":101.25,"y":54.01}]},
    "mark": {"type": "text", "font": "Liberation Serif", "fontSize": 14, "fontWeight": "bold", "align": "left", "baseline": "middle", "color": "#111111"},
    "encoding": {"text": {"field": "t"}}},
   {"data": {"values": [{"t":"CH-M","x":103.65,"y":56.57},{"t":"OS-F","x":103.1,"y":60.02},{"t":"GC-F","x":103.1,"y":63.25},{"t":"EH-M","x":103.1,"y":66.7},{"t":"YW-M","x":103.1,"y":69.93},{"t":"FH-M","x":103.1,"y":73.16},{"t":"WRB-M","x":103.1,"y":76.17},{"t":"RBS-M","x":103.1,"y":78.84},{"t":"Men","x":101.25,"y":81.63},{"t":"- filled","x":105.57,"y":81.63},{"t":"Women - empty","x":101.25,"y":84.08}]},
    "mark": {"type": "text", "font": "Liberation Serif", "fontSize": 12.5, "fontWeight": "bold", "align": "left", "baseline": "middle", "color": "#111111"},
    "encoding": {"text": {"field": "t"}}},
   {"data": {"values": [{"s":"CH-M","x":101.85,"y":56.3},{"s":"OS-F","x":101.85,"y":60.02},{"s":"GC-F","x":101.85,"y":63.25},{"s":"EH-M","x":101.85,"y":66.7},{"s":"YW-M","x":101.85,"y":69.93},{"s":"FH-M","x":101.85,"y":73.16},{"s":"WRB-M","x":101.85,"y":76.17},{"s":"RBS-M","x":101.85,"y":78.84}]},
    "mark": {"type": "point", "filled": true, "strokeWidth": 2, "opacity": 1},
    "encoding": {
     "shape": {"field": "s", "type": "nominal", "scale": {"domain": ["CH-M","OS-F","GC-F","EH-M","YW-M","FH-M","WRB-M","RBS-M"], "range": ["M-1,-1H1V1H-1ZM-0.33,-1V1M0.33,-1V1M-1,-0.33H1M-1,0.33H1","diamond","square","triangle-up","square","circle","square","M-1,-0.5H1V0.5H-1Z"]}, "legend": null},
     "size": {"field": "s", "type": "nominal", "scale": {"domain": ["CH-M","OS-F","GC-F","EH-M","YW-M","FH-M","WRB-M","RBS-M"], "range": [260, 110, 130, 150, 160, 150, 160, 45]}, "legend": null},
     "fill": {"field": "s", "type": "nominal", "scale": {"domain": ["CH-M","OS-F","GC-F","EH-M","YW-M","FH-M","WRB-M","RBS-M"], "range": ["#ffe28a","white","white","#ffff00","#ffff00","#ffff00","#ffff00","#222222"]}, "legend": null},
     "stroke": {"field": "s", "type": "nominal", "scale": {"domain": ["CH-M","OS-F","GC-F","EH-M","YW-M","FH-M","WRB-M","RBS-M"], "range": ["#f5b400","#111111","#111111","#111111","#ffff00","#111111","#ffff00","#222222"]}, "legend": null}}},
   {"data": {"values": [{"s":"YW-M","x":101.85,"y":69.93},{"s":"WRB-M","x":101.85,"y":76.17}]},
    "mark": {"type": "point", "filled": false, "stroke": "#111111", "strokeWidth": 2.2, "size": 150, "opacity": 1},
    "encoding": {"shape": {"field": "s", "type": "nominal", "scale": {"domain": ["YW-M","WRB-M"], "range": ["M-0.7,-0.7L0.7,0.7M0.7,-0.7L-0.7,0.7M0,-0.95L0,0.95","M-0.85,0L0.85,0M0,-0.85L0,0.85"]}, "legend": null}}},
   {"data": {"values": [{"t":"3.66y","c":"sub","x":0.96,"y":93.43},{"t":"5.5y","c":"sub","x":5.95,"y":93.43},{"t":"11y","c":"main","x":11.32,"y":93.43},{"t":"22y","c":"main","x":22.07,"y":93.43},{"t":"33y","c":"main","x":33.11,"y":93.76},{"t":"66y","c":"main","x":66.03,"y":93.76}]},
    "mark": {"type": "text", "fontSize": 16, "align": "left", "baseline": "middle"},
    "encoding": {"text": {"field": "t"}, "color": {"field": "c", "type": "nominal", "scale": {"domain": ["sub","main"], "range": ["#d9a02f","#b8722e"]}, "legend": null}}},
   {"data": {"values": [{"t":"Sunspot cycles in years and harmonics in yellow","x":-3.07,"y":95.43}]},
    "mark": {"type": "text", "fontSize": 15, "align": "left", "baseline": "middle", "color": "#b8802c"},
    "encoding": {"text": {"field": "t"}}},
   {"data": {"values": [
     {"t":"@ With decade(s) long records, analyzed by non-linearly extended cosinor,","c":"k","x":-3.55,"y":97.22},
     {"t":"*","c":"star","x":45.39,"y":97.22},
     {"t":"fitted with linear trend","c":"k","x":46.07,"y":97.22},
     {"t":"17 KS - 17 Keto-Steroids,","c":"ks","x":61.32,"y":97.22},
     {"t":"S= Systolic,","c":"sys","x":78.41,"y":97.22},
     {"t":"D=Diastolic,","c":"dia","x":86.18,"y":97.22},
     {"t":"BP=Blood Pressure,","c":"k","x":-3.55,"y":99.0},
     {"t":"HR=Heart Rate;","c":"hr","x":10.0,"y":99.0},
     {"t":"MESOR= Midline Estimating Statistic Of Rhythm; 2A=Double circadian amplitude, *close to Nyquist;Amplitude ignored","c":"k","x":21.0,"y":99.0}]},
    "mark": {"type": "text", "fontSize": 15.5, "fontWeight": "bold", "align": "left", "baseline": "middle"},
    "encoding": {"text": {"field": "t"}, "color": {"field": "c", "type": "nominal", "scale": {"domain": ["k","star","ks","sys","dia","hr"], "range": ["#111111","#ff4f9f","#e3a12f","#22b04b","#ed1c24","#2e75b6"]}, "legend": null}}}
  ]
 }
]
}
